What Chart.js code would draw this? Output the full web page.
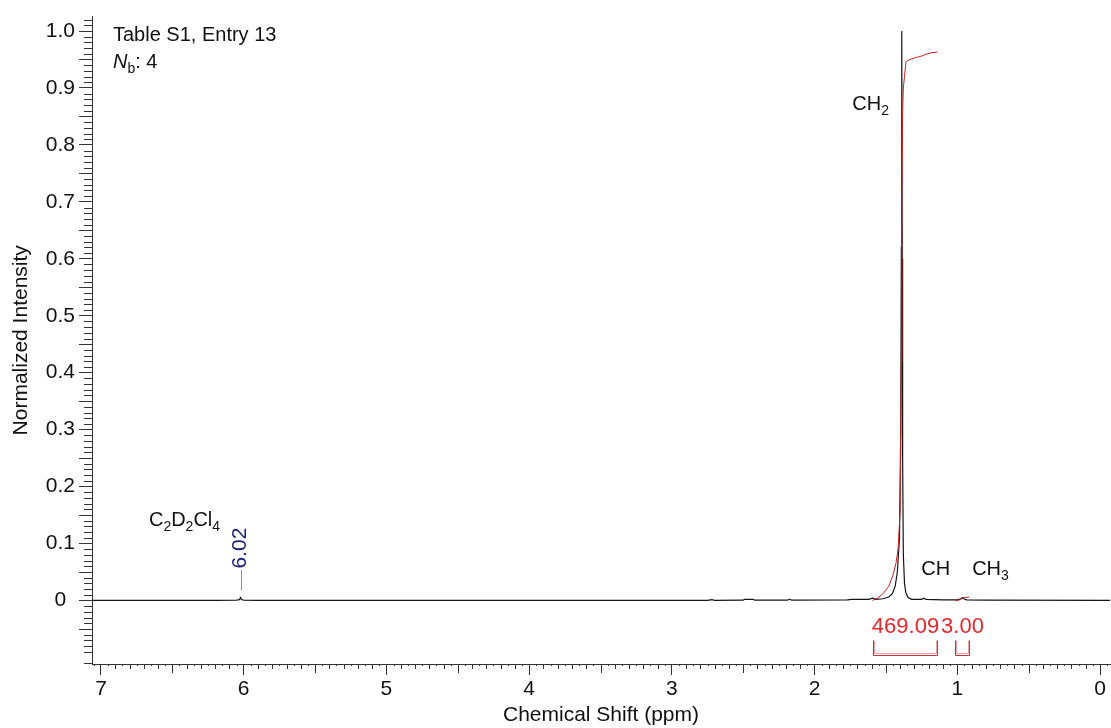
<!DOCTYPE html>
<html>
<head>
<meta charset="utf-8">
<script src="https://cdn.jsdelivr.net/npm/chart.js@4.4.1/dist/chart.umd.min.js"></script>
<style>
  html, body { margin: 0; padding: 0; background: #fff; }
  #wrap { width: 1111px; height: 728px; position: relative; }
</style>
</head>
<body>
<div id="wrap"><canvas id="nmr"></canvas></div>
<script>
/* 1H NMR spectrum, Table S1 entry 13 */
const SPEC_PPM = [7.063, 6.20, 6.05, 6.03, 6.022, 6.016, 6.00, 5.90, 2.75, 2.72, 2.70, 2.50, 2.49, 2.43, 2.42,
  2.19, 2.175, 2.16, 1.77, 1.74, 1.62, 1.595, 1.57, 1.52, 1.48, 1.455, 1.435, 1.42, 1.405, 1.396, 1.392, 1.389,
  1.386, 1.383, 1.378, 1.37, 1.36, 1.345, 1.32, 1.25, 1.235, 1.22, 1.10, 1.00, 0.975, 0.965, 0.955, 0.935, 0.80, -0.07];
const SPEC_INT = [0, 0, 0.0005, 0.0015, 0.005, 0.0015, 0.0005, 0, 0, 0.0015, 0.0003, 0.0005, 0.002, 0.002, 0.0005,
  0.0005, 0.002, 0.0005, 0.001, 0.002, 0.002, 0.004, 0.002, 0.003, 0.006, 0.012, 0.025, 0.05, 0.11, 0.3, 0.62, 1.0,
  0.6, 0.25, 0.08, 0.03, 0.013, 0.005, 0.002, 0.002, 0.004, 0.002, 0.001, 0.001, 0.003, 0.005, 0.003, 0.001, 0.0005, 0];

// integral traces (cumulative curves)
const INT1_PPM = [1.594, 1.56, 1.52, 1.48, 1.45, 1.43, 1.415, 1.40, 1.393, 1.388, 1.383, 1.378, 1.37, 1.36, 1.35,
  1.32, 1.28, 1.25, 1.22, 1.18, 1.139];
const INT1_VAL = [0, 0.004, 0.012, 0.025, 0.045, 0.065, 0.09, 0.16, 0.42, 0.7, 0.86, 0.9, 0.92, 0.945, 0.948,
  0.951, 0.954, 0.956, 0.959, 0.962, 0.963];
const INT2_PPM = [1.015, 0.99, 0.975, 0.965, 0.955, 0.94, 0.917];
const INT2_VAL = [0, 0.0005, 0.002, 0.004, 0.005, 0.0055, 0.006];

const INT_FROM = [1.594, 1.015];
const INT_TO = [1.139, 0.917];
const INT_LABELS = ["469.09", "3.00"];

const PEAK_PPM = [6.02];
const PEAK_LABELS = ["6.02"];

const X_TICKS = [0, 1, 2, 3, 4, 5, 6, 7];
const Y_TICKS = [0, 0.1, 0.2, 0.3, 0.4, 0.5, 0.6, 0.7, 0.8, 0.9, 1.0];

const FONT = '"Liberation Sans", Arial, sans-serif';
const AXIS = "#333";

Chart.defaults.font.family = FONT;
Chart.defaults.color = "#111";

const pts = (xs, ys) => xs.map((v, i) => ({ x: v, y: ys[i] }));

function rich(ctx, parts, x, y) {
  let cx = x;
  parts.forEach(([t, m]) => {
    const sub = m === "s";
    ctx.font = (m === "i" ? "italic " : "") + (sub ? "14px " : "20px ") + FONT;
    ctx.fillText(t, cx, y + (sub ? 5 : 0));
    cx += ctx.measureText(t).width;
  });
}

const decor = {
  id: "decor",
  afterDraw(chart) {
    const { ctx, scales: { x, y } } = chart;
    const px = v => x.getPixelForValue(v), py = v => y.getPixelForValue(v);
    ctx.save();

    // minor ticks on both axes
    ctx.strokeStyle = AXIS; ctx.lineWidth = 1;
    ctx.beginPath();
    for (let k = -11; k <= 102; k++) {
      if (k % 10 === 0) continue;
      const len = k % 5 === 0 ? 13 : 8;
      const yy = Math.round(py(k / 100)) + 0.5;
      ctx.moveTo(y.right - len, yy); ctx.lineTo(y.right, yy);
    }
    for (let k = -1; k <= 141; k++) {
      if (k % 20 === 0) continue;
      const len = k % 10 === 0 ? 9 : (k % 2 === 0 ? 5 : 2);
      const xx = Math.round(px(k / 20)) + 0.5;
      ctx.moveTo(xx, x.top); ctx.lineTo(xx, x.top + len);
    }
    ctx.stroke();

    // text annotations
    ctx.fillStyle = "#111"; ctx.textAlign = "left"; ctx.textBaseline = "alphabetic";
    rich(ctx, [["Table S1, Entry 13"]], px(6.916), py(0.982));
    rich(ctx, [["N", "i"], ["b", "s"], [": 4"]], px(6.916), py(0.9355));
    rich(ctx, [["C"], ["2", "s"], ["D"], ["2", "s"], ["Cl"], ["4", "s"]], px(6.664), py(0.131));
    rich(ctx, [["CH"], ["2", "s"]], px(1.736), py(0.861));
    rich(ctx, [["CH"]], px(1.253), py(0.045));
    rich(ctx, [["CH"], ["3", "s"]], px(0.896), py(0.045));

    // peak pick labels
    PEAK_PPM.forEach((p, i) => {
      const xx = Math.round(px(p)) + 0.5;
      ctx.strokeStyle = "#8a8aa8";
      ctx.beginPath(); ctx.moveTo(xx, py(0.0175)); ctx.lineTo(xx, py(0.054)); ctx.stroke();
      ctx.save();
      ctx.translate(xx - 1.5, py(0.056));
      ctx.rotate(-Math.PI / 2);
      ctx.font = "21px " + FONT; ctx.fillStyle = "#1f237a"; ctx.textBaseline = "middle";
      ctx.fillText(PEAK_LABELS[i], 0, 0);
      ctx.restore();
    });

    // integral brackets + values
    INT_LABELS.forEach((lab, i) => {
      const a = Math.round(px(INT_FROM[i])) + 0.5, b = Math.round(px(INT_TO[i])) + 0.5;
      const top = Math.round(py(-0.0686)) + 0.5, bot = Math.round(py(-0.0959)) + 0.5;
      ctx.strokeStyle = "#eaa4a4";
      ctx.beginPath(); ctx.moveTo(a + 1, top); ctx.lineTo(a + 1, bot - 2); ctx.lineTo(b - 1, bot - 2); ctx.lineTo(b - 1, top); ctx.stroke();
      ctx.strokeStyle = "#c83232";
      ctx.beginPath(); ctx.moveTo(a, top); ctx.lineTo(a, bot); ctx.lineTo(b, bot); ctx.lineTo(b, top); ctx.stroke();
      ctx.font = "22px " + FONT; ctx.fillStyle = "#e2282c"; ctx.textAlign = "center";
      ctx.fillText(lab, (a + b) / 2, py(-0.0575));
    });
    ctx.restore();
  }
};

new Chart(document.getElementById("nmr"), {
  type: "line",
  data: {
    datasets: [
      { data: pts(INT1_PPM, INT1_VAL), borderColor: "#c82020", borderWidth: 1 },
      { data: pts(INT2_PPM, INT2_VAL), borderColor: "#c82020", borderWidth: 1 },
      { data: pts(SPEC_PPM, SPEC_INT), borderColor: "#151515", borderWidth: 1.2 }
    ]
  },
  options: {
    responsive: true, maintainAspectRatio: false, animation: false,
    layout: { padding: { top: 12, right: 1, left: 0, bottom: 0 } },
    elements: { point: { radius: 0 }, line: { tension: 0 } },
    plugins: { legend: { display: false }, tooltip: { enabled: false } },
    scales: {
      x: {
        type: "linear", reverse: true, min: -0.07, max: 7.063,
        afterBuildTicks: s => { s.ticks = X_TICKS.map(v => ({ value: v })); },
        afterFit: s => { s.height = 64; },
        ticks: { autoSkip: false, maxRotation: 0, padding: 2, font: { size: 21 }, color: "#111", callback: v => String(v) },
        grid: { drawOnChartArea: false, tickLength: 11, color: AXIS },
        border: { color: AXIS, width: 1 },
        title: { display: true, text: "Chemical Shift (ppm)", font: { size: 21 }, color: "#111", padding: { top: 0, bottom: 0 } }
      },
      y: {
        min: -0.1116, max: 1.0253,
        afterBuildTicks: s => { s.ticks = Y_TICKS.map(v => ({ value: v })); },
        afterFit: s => { s.width = 92; },
        ticks: { crossAlign: "center", padding: 4, font: { size: 21 }, color: "#111", callback: v => v === 0 ? "0" : v.toFixed(1) },
        grid: { drawOnChartArea: false, tickLength: 13, color: AXIS },
        border: { color: AXIS, width: 1 },
        title: { display: true, text: "Normalized Intensity", font: { size: 21 }, color: "#111", padding: { top: 9, bottom: 0 } }
      }
    }
  },
  plugins: [decor]
});
</script>
</body>
</html>
